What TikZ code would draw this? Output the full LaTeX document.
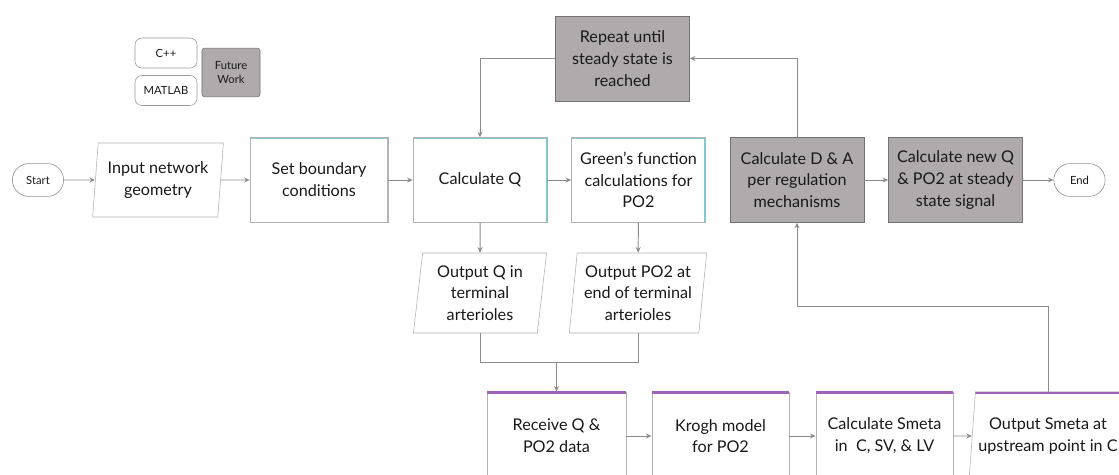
\documentclass[tikz,border=0pt]{standalone}
\usepackage{fontspec}
\setmainfont{Lato}
\usetikzlibrary{positioning,shapes.geometric,shapes.misc,arrows.meta}
\definecolor{edgeteal}{HTML}{86C8CF}
\definecolor{edgepurple}{HTML}{9F63B8}
\definecolor{futuregray}{HTML}{B0AAAD}
\definecolor{linegray}{HTML}{8C8C8C}

\begin{document}
\begin{tikzpicture}[x=0.025cm, y=-0.025cm,
    every node/.style={font=\fontsize{11.5}{15.5}\selectfont, align=center, text=black!90},
    proc/.style={draw=black!30, fill=white, minimum width=3.35cm, minimum height=2.12cm, inner sep=2pt},
    tealedge/.style={path picture={\draw[edgeteal, line width=1.6pt]
        (path picture bounding box.north west) -- (path picture bounding box.north east)
        -- (path picture bounding box.south east);}},
    purpleedge/.style={draw=black!30, postaction={draw=none, path picture={\draw[edgepurple, line width=2pt]
        ([yshift=-0.5pt]path picture bounding box.north west) -- ([yshift=-0.5pt]path picture bounding box.north east);}}},
    future/.style={proc, draw=black!55, fill=futuregray},
    io/.style={trapezium, trapezium left angle=83, trapezium right angle=97, trapezium stretches=true,
        draw=black!30, fill=white, minimum width=3.35cm, minimum height=2cm, inner sep=1pt},
    term/.style={rounded rectangle, draw=black!45, fill=white, minimum width=1.35cm, minimum height=0.82cm,
        inner sep=1pt, font=\fontsize{8}{10}\selectfont},
    legend/.style={draw=black!40, rounded corners=5pt, fill=white, minimum width=1.55cm, minimum height=0.75cm,
        inner sep=1pt, font=\fontsize{8}{10}\selectfont},
    flow/.style={draw=linegray, line width=0.7pt, -{Stealth[length=4pt,width=3.5pt]}},
    plain/.style={draw=linegray, line width=0.7pt}]
  \clip (0,0) rectangle (1119,474);
  \fill[white] (0,0) rectangle (1119,474);

  % legend
  \node[legend] (cpp) at (166,53) {C++};
  \node[legend] (matlab) at (166,90.5) {MATLAB};
  \node[future, minimum width=1.45cm, minimum height=1.22cm, rounded corners=2pt,
        font=\fontsize{8}{10}\selectfont] (fw) at (231,72.5) {Future\\Work};

  % main row
  \node[term] (start) at (38,180) {Start};
  \node[io, minimum width=3.28cm, minimum height=1.85cm] (input) at (158,180) {Input network\\geometry};
  \node[proc, tealedge, minimum width=3.45cm] (bound) at (319,180) {Set boundary\\conditions};
  \node[proc, tealedge] (calcq) at (480,180) {Calculate Q};
  \node[proc, tealedge] (green) at (638.5,180) {Green's function\\calculations for\\PO2};
  \node[future] (calcda) at (797,180) {Calculate D \& A\\per regulation\\mechanisms};
  \node[future] (newq) at (955.5,180) {Calculate new Q\\\& PO2 at steady\\state signal};
  \node[term] (end) at (1079.5,180) {End};

  % loop box
  \node[future] (repeat) at (622.5,58.5) {Repeat until\\steady state is\\reached};

  % outputs
  \node[io] (outq) at (480,293) {Output Q in\\terminal\\arterioles};
  \node[io, minimum width=3.45cm] (outpo) at (638,293) {Output PO2 at\\end of terminal\\arterioles};

  % bottom row
  \node[proc, purpleedge, minimum width=3.48cm, minimum height=2.2cm] (receive) at (556.5,436) {Receive Q \&\\PO2 data};
  \node[proc, purpleedge, minimum width=3.43cm, minimum height=2.2cm] (krogh) at (720.5,436) {Krogh model\\for PO2};
  \node[proc, purpleedge, minimum width=3.43cm, minimum height=2.2cm] (smeta) at (884.5,436) {Calculate Smeta\\in \ C, SV, \& LV};
  \node[io, purpleedge, trapezium left angle=81, trapezium right angle=99, minimum width=3.95cm,
        minimum height=2.2cm] (outsm) at (1048,436) {Output Smeta at\\upstream point in C};

  % connectors
  \draw[flow] (start) -- (input);
  \draw[flow] (input) -- (bound);
  \draw[flow] (bound) -- (calcq);
  \draw[flow] (calcq) -- (green);
  \draw[flow] (calcda) -- (newq);
  \draw[flow] (newq) -- (end);
  \draw[flow] (calcda.north) |- (repeat.east);
  \draw[flow] (repeat.west) -| (calcq.north);
  \draw[flow] (calcq) -- (outq);
  \draw[flow] (green) -- (outpo);
  \coordinate (merge) at (556.5,362);
  \draw[plain] (outq.south) |- (merge);
  \draw[plain] (outpo.south) |- (merge);
  \draw[flow] (merge) -- (receive);
  \draw[flow] (receive) -- (krogh);
  \draw[flow] (krogh) -- (smeta);
  \draw[flow] (smeta) -- (outsm);
  \draw[flow] (outsm.north) -- ++(0,-85) -| (calcda.south);
\end{tikzpicture}
\end{document}
